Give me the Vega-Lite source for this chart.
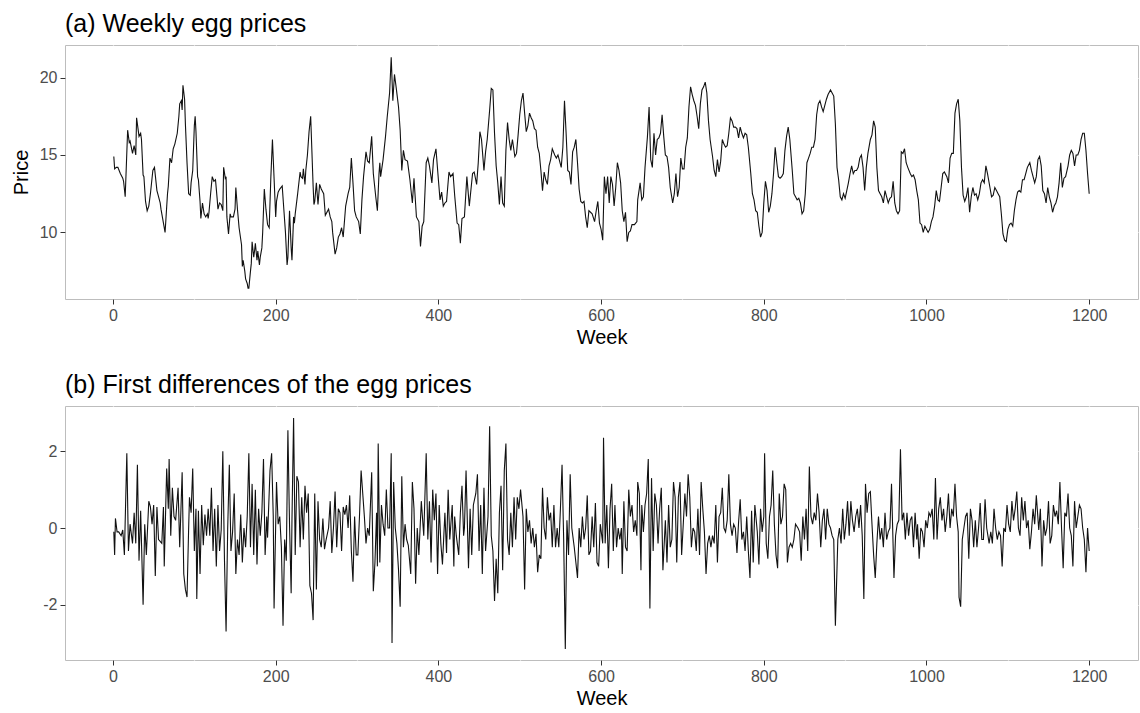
{
"$schema": "https://vega.github.io/schema/vega-lite/v6.json",
"background": "white",
"padding": {"left": 10, "top": 11, "right": 2, "bottom": 3},
"config": {
  "font": "Liberation Sans",
  "view": {"stroke": "#bdbdbd", "strokeWidth": 1},
  "axis": {"labelFontSize": 16, "labelColor": "#4d4d4d", "titleFontSize": 20, "titleFontWeight": "normal", "titleColor": "#000000", "tickColor": "#333333", "tickSize": 5, "domain": false, "gridColor": "#ffffff", "gridWidth": 1.2, "labelPadding": 3, "labelOverlap": false},
  "title": {"fontSize": 25, "fontWeight": "normal", "anchor": "start", "color": "#000000", "offset": 8, "frame": "group"},
  "concat": {"spacing": 24}
},
"datasets": {
"price": [
{"week":1,"price":14.9},{"week":2,"price":14.1},{"week":4,"price":14.2},{"week":6,"price":14.2},{"week":9,"price":13.8},{"week":12,"price":13.5},{"week":13,"price":13.3},{"week":15,"price":12.3},{"week":18,"price":16.6},{"week":20,"price":15.8},{"week":21,"price":15.9},{"week":24,"price":15.1},{"week":26,"price":15.6},{"week":28,"price":15.0},{"week":29,"price":17.4},{"week":32,"price":16.2},{"week":34,"price":16.4},{"week":35,"price":16.0},{"week":37,"price":13.7},{"week":38,"price":13.6},{"week":40,"price":12.0},{"week":42,"price":11.4},{"week":44,"price":11.7},{"week":46,"price":12.5},{"week":47,"price":13.0},{"week":49,"price":14.0},{"week":51,"price":14.2},{"week":54,"price":12.7},{"week":55,"price":12.5},{"week":58,"price":11.9},{"week":59,"price":11.5},{"week":61,"price":10.9},{"week":64,"price":10.0},{"week":65,"price":10.8},{"week":67,"price":12.5},{"week":68,"price":13.0},{"week":70,"price":14.8},{"week":72,"price":14.5},{"week":74,"price":15.4},{"week":76,"price":15.7},{"week":79,"price":16.4},{"week":81,"price":17.5},{"week":82,"price":18.3},{"week":84,"price":18.5},{"week":85,"price":17.9},{"week":86,"price":19.5},{"week":88,"price":18.6},{"week":89,"price":17.0},{"week":91,"price":14.5},{"week":93,"price":12.5},{"week":95,"price":12.4},{"week":96,"price":13.2},{"week":98,"price":14.0},{"week":100,"price":16.9},{"week":101,"price":17.5},{"week":102,"price":16.5},{"week":104,"price":13.6},{"week":105,"price":13.4},{"week":107,"price":12.0},{"week":108,"price":10.9},{"week":110,"price":11.9},{"week":112,"price":11.2},{"week":114,"price":11.0},{"week":116,"price":11.2},{"week":117,"price":10.9},{"week":118,"price":11.3},{"week":120,"price":12.5},{"week":122,"price":13.6},{"week":124,"price":13.3},{"week":126,"price":13.4},{"week":128,"price":12.2},{"week":129,"price":11.5},{"week":131,"price":11.9},{"week":133,"price":11.8},{"week":135,"price":11.4},{"week":136,"price":14.2},{"week":138,"price":13.5},{"week":139,"price":13.6},{"week":140,"price":11.0},{"week":142,"price":9.9},{"week":144,"price":11.2},{"week":145,"price":11.0},{"week":148,"price":11.0},{"week":150,"price":11.5},{"week":151,"price":12.9},{"week":153,"price":11.5},{"week":155,"price":10.3},{"week":158,"price":9.2},{"week":159,"price":7.8},{"week":160,"price":8.2},{"week":162,"price":7.5},{"week":163,"price":7.0},{"week":165,"price":6.7},{"week":166,"price":6.4},{"week":167,"price":6.4},{"week":169,"price":7.5},{"week":170,"price":8.0},{"week":171,"price":9.4},{"week":173,"price":8.4},{"week":174,"price":8.8},{"week":175,"price":9.3},{"week":177,"price":8.2},{"week":178,"price":8.8},{"week":180,"price":7.9},{"week":181,"price":8.4},{"week":183,"price":9.0},{"week":184,"price":10.0},{"week":186,"price":12.8},{"week":188,"price":11.5},{"week":190,"price":10.5},{"week":192,"price":10.3},{"week":194,"price":13.5},{"week":196,"price":16.0},{"week":198,"price":13.5},{"week":200,"price":11.0},{"week":201,"price":12.0},{"week":203,"price":12.6},{"week":205,"price":12.8},{"week":208,"price":13.0},{"week":210,"price":11.5},{"week":212,"price":10.0},{"week":214,"price":7.9},{"week":215,"price":8.4},{"week":217,"price":11.4},{"week":219,"price":9.0},{"week":220,"price":8.2},{"week":222,"price":11.0},{"week":223,"price":10.6},{"week":224,"price":11.2},{"week":227,"price":12.5},{"week":230,"price":13.9},{"week":231,"price":13.6},{"week":233,"price":13.5},{"week":234,"price":14.1},{"week":236,"price":13.1},{"week":237,"price":14.0},{"week":239,"price":15.0},{"week":241,"price":16.5},{"week":243,"price":17.5},{"week":244,"price":16.0},{"week":246,"price":13.0},{"week":247,"price":11.8},{"week":248,"price":12.0},{"week":250,"price":13.2},{"week":252,"price":11.8},{"week":254,"price":13.1},{"week":256,"price":12.8},{"week":259,"price":12.5},{"week":261,"price":11.1},{"week":265,"price":11.5},{"week":267,"price":11.0},{"week":269,"price":10.7},{"week":270,"price":10.0},{"week":273,"price":8.6},{"week":275,"price":9.0},{"week":277,"price":9.7},{"week":279,"price":9.9},{"week":281,"price":10.3},{"week":283,"price":9.7},{"week":286,"price":11.7},{"week":289,"price":12.5},{"week":291,"price":12.9},{"week":293,"price":14.8},{"week":295,"price":13.2},{"week":297,"price":11.4},{"week":299,"price":11.0},{"week":302,"price":10.7},{"week":304,"price":9.9},{"week":306,"price":12.1},{"week":308,"price":13.6},{"week":311,"price":15.2},{"week":313,"price":14.6},{"week":315,"price":14.5},{"week":318,"price":16.2},{"week":320,"price":13.8},{"week":323,"price":12.3},{"week":325,"price":11.4},{"week":327,"price":13.8},{"week":328,"price":14.5},{"week":329,"price":13.6},{"week":332,"price":14.7},{"week":335,"price":16.2},{"week":337,"price":17.4},{"week":340,"price":19.0},{"week":342,"price":21.3},{"week":344,"price":18.5},{"week":346,"price":20.2},{"week":348,"price":19.4},{"week":351,"price":18.1},{"week":353,"price":16.6},{"week":355,"price":14.0},{"week":357,"price":15.3},{"week":359,"price":14.7},{"week":362,"price":14.6},{"week":365,"price":13.4},{"week":368,"price":11.9},{"week":370,"price":13.5},{"week":373,"price":11.0},{"week":376,"price":10.7},{"week":378,"price":9.1},{"week":380,"price":10.4},{"week":382,"price":10.7},{"week":385,"price":14.5},{"week":387,"price":14.8},{"week":389,"price":14.3},{"week":392,"price":13.2},{"week":394,"price":14.7},{"week":397,"price":15.4},{"week":400,"price":13.4},{"week":402,"price":12.1},{"week":404,"price":12.6},{"week":406,"price":11.7},{"week":408,"price":11.9},{"week":410,"price":12.0},{"week":413,"price":13.9},{"week":415,"price":13.6},{"week":418,"price":13.8},{"week":420,"price":12.4},{"week":423,"price":10.6},{"week":425,"price":10.5},{"week":427,"price":9.3},{"week":429,"price":10.9},{"week":432,"price":11.0},{"week":435,"price":13.6},{"week":438,"price":11.7},{"week":442,"price":13.8},{"week":444,"price":13.9},{"week":447,"price":13.1},{"week":449,"price":14.5},{"week":451,"price":16.5},{"week":453,"price":16.0},{"week":456,"price":14.0},{"week":458,"price":15.2},{"week":460,"price":16.0},{"week":463,"price":17.9},{"week":465,"price":19.3},{"week":467,"price":19.2},{"week":469,"price":16.4},{"week":471,"price":14.3},{"week":473,"price":13.2},{"week":475,"price":11.8},{"week":477,"price":13.6},{"week":479,"price":11.9},{"week":481,"price":11.7},{"week":483,"price":15.3},{"week":485,"price":17.1},{"week":487,"price":16.0},{"week":489,"price":15.3},{"week":491,"price":16.0},{"week":494,"price":14.9},{"week":496,"price":15.1},{"week":498,"price":16.3},{"week":500,"price":17.6},{"week":502,"price":18.5},{"week":504,"price":19.0},{"week":506,"price":17.7},{"week":508,"price":16.5},{"week":510,"price":16.9},{"week":512,"price":17.7},{"week":514,"price":17.4},{"week":516,"price":17.2},{"week":518,"price":16.7},{"week":520,"price":16.6},{"week":522,"price":15.5},{"week":524,"price":15.1},{"week":526,"price":14.0},{"week":528,"price":12.7},{"week":530,"price":13.9},{"week":532,"price":13.4},{"week":534,"price":13.1},{"week":536,"price":14.3},{"week":538,"price":14.7},{"week":540,"price":15.4},{"week":543,"price":15.0},{"week":545,"price":14.8},{"week":547,"price":15.0},{"week":549,"price":14.6},{"week":551,"price":14.2},{"week":553,"price":15.5},{"week":555,"price":18.5},{"week":557,"price":16.4},{"week":559,"price":14.0},{"week":561,"price":13.9},{"week":563,"price":13.1},{"week":565,"price":15.2},{"week":567,"price":15.5},{"week":569,"price":16.0},{"week":571,"price":14.5},{"week":573,"price":12.8},{"week":575,"price":12.0},{"week":577,"price":11.9},{"week":579,"price":12.0},{"week":581,"price":11.0},{"week":583,"price":10.3},{"week":585,"price":11.4},{"week":587,"price":11.3},{"week":589,"price":11.2},{"week":592,"price":10.7},{"week":594,"price":11.4},{"week":596,"price":12.0},{"week":598,"price":10.6},{"week":600,"price":10.2},{"week":602,"price":9.5},{"week":604,"price":13.6},{"week":606,"price":12.5},{"week":608,"price":13.6},{"week":610,"price":11.9},{"week":612,"price":13.6},{"week":614,"price":13.1},{"week":616,"price":11.7},{"week":618,"price":12.9},{"week":620,"price":14.5},{"week":622,"price":14.0},{"week":624,"price":13.2},{"week":626,"price":11.4},{"week":628,"price":10.7},{"week":630,"price":11.3},{"week":632,"price":9.4},{"week":634,"price":10.0},{"week":636,"price":10.1},{"week":638,"price":10.5},{"week":641,"price":10.5},{"week":644,"price":10.7},{"week":645,"price":12.1},{"week":648,"price":13.2},{"week":650,"price":12.1},{"week":652,"price":12.3},{"week":654,"price":14.2},{"week":657,"price":16.2},{"week":659,"price":18.1},{"week":661,"price":14.7},{"week":663,"price":14.2},{"week":665,"price":16.4},{"week":667,"price":15.0},{"week":669,"price":16.0},{"week":671,"price":16.1},{"week":673,"price":16.4},{"week":675,"price":17.6},{"week":677,"price":16.2},{"week":679,"price":15.0},{"week":681,"price":14.9},{"week":683,"price":14.2},{"week":685,"price":12.9},{"week":688,"price":11.9},{"week":690,"price":12.5},{"week":692,"price":13.8},{"week":694,"price":12.3},{"week":696,"price":12.9},{"week":698,"price":14.8},{"week":700,"price":14.1},{"week":702,"price":14.1},{"week":704,"price":15.5},{"week":706,"price":16.1},{"week":708,"price":18.1},{"week":710,"price":19.4},{"week":712,"price":18.9},{"week":714,"price":18.5},{"week":716,"price":18.2},{"week":718,"price":17.5},{"week":720,"price":16.7},{"week":722,"price":18.3},{"week":724,"price":19.2},{"week":726,"price":19.4},{"week":728,"price":19.7},{"week":730,"price":19.0},{"week":732,"price":17.2},{"week":734,"price":16.0},{"week":737,"price":14.9},{"week":739,"price":14.0},{"week":741,"price":13.6},{"week":743,"price":14.7},{"week":745,"price":13.9},{"week":747,"price":14.6},{"week":749,"price":16.0},{"week":751,"price":15.7},{"week":753,"price":15.5},{"week":755,"price":15.6},{"week":757,"price":16.4},{"week":759,"price":17.4},{"week":761,"price":17.2},{"week":763,"price":16.8},{"week":765,"price":16.8},{"week":767,"price":16.7},{"week":769,"price":16.1},{"week":771,"price":16.8},{"week":773,"price":16.4},{"week":775,"price":16.1},{"week":777,"price":16.4},{"week":779,"price":16.3},{"week":781,"price":15.5},{"week":784,"price":13.8},{"week":786,"price":12.5},{"week":788,"price":12.1},{"week":790,"price":11.4},{"week":792,"price":11.3},{"week":794,"price":10.4},{"week":796,"price":9.7},{"week":798,"price":10.0},{"week":800,"price":11.9},{"week":802,"price":13.3},{"week":804,"price":12.7},{"week":806,"price":11.3},{"week":808,"price":11.7},{"week":810,"price":12.5},{"week":812,"price":13.8},{"week":814,"price":15.5},{"week":816,"price":14.5},{"week":818,"price":13.6},{"week":820,"price":13.5},{"week":822,"price":13.6},{"week":824,"price":13.8},{"week":826,"price":15.3},{"week":828,"price":16.2},{"week":830,"price":16.8},{"week":832,"price":16.0},{"week":835,"price":14.0},{"week":837,"price":12.5},{"week":839,"price":12.3},{"week":841,"price":12.1},{"week":843,"price":12.2},{"week":845,"price":11.9},{"week":847,"price":11.2},{"week":849,"price":11.4},{"week":851,"price":12.5},{"week":853,"price":14.5},{"week":855,"price":14.8},{"week":857,"price":15.1},{"week":859,"price":15.5},{"week":861,"price":15.5},{"week":863,"price":16.0},{"week":865,"price":17.6},{"week":867,"price":18.3},{"week":869,"price":18.5},{"week":871,"price":18.1},{"week":873,"price":17.8},{"week":875,"price":18.2},{"week":877,"price":18.6},{"week":879,"price":18.9},{"week":882,"price":19.2},{"week":884,"price":19.0},{"week":886,"price":18.8},{"week":888,"price":17.0},{"week":890,"price":14.2},{"week":892,"price":13.4},{"week":894,"price":12.3},{"week":896,"price":12.1},{"week":898,"price":12.5},{"week":900,"price":12.2},{"week":902,"price":12.7},{"week":904,"price":13.2},{"week":906,"price":13.8},{"week":908,"price":14.3},{"week":910,"price":13.8},{"week":912,"price":14.0},{"week":914,"price":14.0},{"week":916,"price":14.2},{"week":918,"price":14.8},{"week":920,"price":15.0},{"week":922,"price":14.2},{"week":924,"price":12.7},{"week":926,"price":14.2},{"week":928,"price":15.1},{"week":931,"price":16.0},{"week":933,"price":16.3},{"week":935,"price":17.2},{"week":937,"price":16.8},{"week":939,"price":14.2},{"week":941,"price":12.7},{"week":943,"price":12.5},{"week":945,"price":12.3},{"week":947,"price":11.9},{"week":949,"price":12.7},{"week":951,"price":12.3},{"week":953,"price":11.9},{"week":955,"price":12.2},{"week":957,"price":12.3},{"week":959,"price":13.3},{"week":961,"price":11.9},{"week":963,"price":11.4},{"week":965,"price":11.2},{"week":967,"price":11.4},{"week":969,"price":15.2},{"week":971,"price":15.1},{"week":973,"price":15.4},{"week":975,"price":14.5},{"week":977,"price":14.2},{"week":980,"price":13.8},{"week":982,"price":13.6},{"week":984,"price":13.7},{"week":986,"price":13.4},{"week":988,"price":12.7},{"week":990,"price":12.1},{"week":992,"price":10.6},{"week":994,"price":10.5},{"week":996,"price":10.0},{"week":998,"price":10.4},{"week":1000,"price":10.2},{"week":1002,"price":10.0},{"week":1004,"price":10.2},{"week":1006,"price":10.7},{"week":1008,"price":11.0},{"week":1010,"price":11.7},{"week":1012,"price":12.7},{"week":1014,"price":12.1},{"week":1016,"price":12.0},{"week":1018,"price":12.9},{"week":1020,"price":13.8},{"week":1022,"price":13.9},{"week":1025,"price":13.6},{"week":1027,"price":13.2},{"week":1029,"price":14.8},{"week":1031,"price":15.1},{"week":1033,"price":15.1},{"week":1035,"price":17.7},{"week":1037,"price":18.3},{"week":1039,"price":18.6},{"week":1041,"price":17.2},{"week":1043,"price":14.2},{"week":1045,"price":12.4},{"week":1047,"price":12.0},{"week":1049,"price":12.3},{"week":1051,"price":12.9},{"week":1053,"price":11.3},{"week":1055,"price":12.3},{"week":1057,"price":12.9},{"week":1059,"price":12.4},{"week":1061,"price":12.5},{"week":1063,"price":12.1},{"week":1065,"price":12.5},{"week":1067,"price":13.2},{"week":1069,"price":13.4},{"week":1071,"price":13.2},{"week":1073,"price":14.3},{"week":1075,"price":13.8},{"week":1078,"price":12.9},{"week":1080,"price":12.3},{"week":1082,"price":12.4},{"week":1084,"price":12.9},{"week":1086,"price":12.7},{"week":1088,"price":12.5},{"week":1090,"price":12.3},{"week":1092,"price":11.2},{"week":1094,"price":9.9},{"week":1096,"price":9.5},{"week":1098,"price":9.4},{"week":1100,"price":10.2},{"week":1102,"price":10.5},{"week":1104,"price":10.6},{"week":1106,"price":10.4},{"week":1108,"price":11.4},{"week":1110,"price":12.1},{"week":1112,"price":12.6},{"week":1114,"price":12.7},{"week":1116,"price":12.6},{"week":1118,"price":13.4},{"week":1120,"price":13.4},{"week":1122,"price":13.8},{"week":1124,"price":14.2},{"week":1127,"price":14.5},{"week":1129,"price":14.0},{"week":1131,"price":13.6},{"week":1133,"price":13.2},{"week":1135,"price":13.6},{"week":1137,"price":14.7},{"week":1139,"price":14.9},{"week":1141,"price":14.3},{"week":1143,"price":12.7},{"week":1145,"price":12.5},{"week":1147,"price":11.9},{"week":1149,"price":12.9},{"week":1151,"price":12.3},{"week":1153,"price":11.9},{"week":1155,"price":11.3},{"week":1157,"price":11.7},{"week":1159,"price":11.9},{"week":1161,"price":12.3},{"week":1163,"price":13.2},{"week":1165,"price":14.5},{"week":1167,"price":12.9},{"week":1169,"price":13.5},{"week":1171,"price":13.6},{"week":1174,"price":14.3},{"week":1176,"price":15.0},{"week":1178,"price":15.3},{"week":1180,"price":15.1},{"week":1182,"price":14.3},{"week":1184,"price":15.0},{"week":1186,"price":15.0},{"week":1188,"price":15.3},{"week":1190,"price":16.0},{"week":1192,"price":16.4},{"week":1194,"price":16.4},{"week":1196,"price":15.3},{"week":1198,"price":13.8},{"week":1200,"price":12.5}
],
"diff": [
{"week":1,"diff":-0.1},{"week":2,"diff":-0.7},{"week":3,"diff":0.25},{"week":5,"diff":-0.1},{"week":7,"diff":-0.1},{"week":10,"diff":-0.2},{"week":12,"diff":-0.05},{"week":14,"diff":-0.7},{"week":17,"diff":1.95},{"week":19,"diff":-0.6},{"week":21,"diff":0.1},{"week":24,"diff":-0.4},{"week":26,"diff":0.4},{"week":28,"diff":-0.4},{"week":30,"diff":1.65},{"week":32,"diff":-0.85},{"week":34,"diff":0.45},{"week":37,"diff":-2.0},{"week":39,"diff":0.1},{"week":41,"diff":-0.7},{"week":44,"diff":0.7},{"week":46,"diff":0.55},{"week":48,"diff":0.1},{"week":50,"diff":0.6},{"week":52,"diff":-1.25},{"week":54,"diff":0.55},{"week":56,"diff":-0.3},{"week":58,"diff":-0.35},{"week":60,"diff":-0.4},{"week":62,"diff":0.55},{"week":63,"diff":-1.0},{"week":66,"diff":1.55},{"week":68,"diff":0.5},{"week":69,"diff":1.8},{"week":71,"diff":-0.2},{"week":73,"diff":1.05},{"week":75,"diff":0.3},{"week":77,"diff":0.2},{"week":80,"diff":1.05},{"week":82,"diff":-0.5},{"week":85,"diff":1.45},{"week":87,"diff":-1.2},{"week":89,"diff":-1.6},{"week":91,"diff":-1.8},{"week":93,"diff":0.0},{"week":94,"diff":0.8},{"week":96,"diff":0.4},{"week":98,"diff":1.55},{"week":100,"diff":-0.6},{"week":102,"diff":0.5},{"week":103,"diff":-1.85},{"week":105,"diff":0.45},{"week":107,"diff":-1.2},{"week":109,"diff":0.6},{"week":111,"diff":-0.45},{"week":113,"diff":0.35},{"week":115,"diff":-0.2},{"week":117,"diff":0.5},{"week":119,"diff":-0.2},{"week":121,"diff":1.05},{"week":123,"diff":-0.6},{"week":125,"diff":0.5},{"week":127,"diff":-1.0},{"week":129,"diff":0.6},{"week":131,"diff":-0.6},{"week":133,"diff":-0.05},{"week":135,"diff":2.0},{"week":137,"diff":-0.8},{"week":139,"diff":-2.7},{"week":141,"diff":0.0},{"week":143,"diff":1.65},{"week":145,"diff":-0.6},{"week":147,"diff":-0.1},{"week":149,"diff":0.9},{"week":151,"diff":-1.2},{"week":153,"diff":-0.3},{"week":155,"diff":-0.7},{"week":157,"diff":0.35},{"week":159,"diff":-0.9},{"week":161,"diff":0.0},{"week":163,"diff":-0.5},{"week":165,"diff":0.3},{"week":167,"diff":1.95},{"week":169,"diff":-0.5},{"week":171,"diff":1.15},{"week":173,"diff":-0.7},{"week":175,"diff":1.0},{"week":177,"diff":-0.95},{"week":179,"diff":0.5},{"week":181,"diff":-0.2},{"week":183,"diff":0.4},{"week":185,"diff":1.8},{"week":187,"diff":-0.7},{"week":189,"diff":0.3},{"week":190,"diff":-0.25},{"week":193,"diff":1.5},{"week":195,"diff":1.95},{"week":197,"diff":0.3},{"week":198,"diff":-2.1},{"week":201,"diff":1.2},{"week":203,"diff":0.1},{"week":205,"diff":0.3},{"week":207,"diff":-0.5},{"week":209,"diff":-2.55},{"week":211,"diff":-0.3},{"week":213,"diff":-0.85},{"week":215,"diff":2.55},{"week":217,"diff":0.1},{"week":219,"diff":-1.7},{"week":220,"diff":0.2},{"week":222,"diff":2.87},{"week":224,"diff":-0.7},{"week":226,"diff":1.35},{"week":228,"diff":1.2},{"week":230,"diff":-0.5},{"week":232,"diff":0.8},{"week":234,"diff":-0.3},{"week":236,"diff":1.1},{"week":238,"diff":0.4},{"week":240,"diff":0.9},{"week":242,"diff":-1.5},{"week":244,"diff":-1.7},{"week":246,"diff":-2.4},{"week":248,"diff":0.9},{"week":250,"diff":-1.6},{"week":252,"diff":0.7},{"week":254,"diff":-0.3},{"week":256,"diff":-0.5},{"week":258,"diff":0.25},{"week":260,"diff":-0.55},{"week":262,"diff":-0.3},{"week":265,"diff":0.0},{"week":267,"diff":0.7},{"week":269,"diff":-0.65},{"week":271,"diff":0.0},{"week":273,"diff":0.95},{"week":275,"diff":-0.5},{"week":277,"diff":0.5},{"week":279,"diff":0.4},{"week":281,"diff":-0.6},{"week":283,"diff":0.55},{"week":285,"diff":0.35},{"week":287,"diff":0.6},{"week":289,"diff":0.0},{"week":291,"diff":0.85},{"week":293,"diff":-0.6},{"week":295,"diff":-1.4},{"week":297,"diff":0.3},{"week":299,"diff":-0.7},{"week":301,"diff":-0.7},{"week":303,"diff":0.3},{"week":305,"diff":1.5},{"week":307,"diff":0.9},{"week":309,"diff":0.3},{"week":311,"diff":-0.4},{"week":313,"diff":0.0},{"week":315,"diff":-0.2},{"week":318,"diff":1.45},{"week":320,"diff":-1.65},{"week":322,"diff":-0.9},{"week":324,"diff":0.4},{"week":325,"diff":-1.0},{"week":326,"diff":2.2},{"week":328,"diff":-0.9},{"week":330,"diff":0.6},{"week":332,"diff":0.1},{"week":334,"diff":-0.2},{"week":336,"diff":1.0},{"week":338,"diff":0.0},{"week":340,"diff":0.0},{"week":342,"diff":1.95},{"week":343,"diff":-3.0},{"week":345,"diff":1.2},{"week":347,"diff":0.0},{"week":349,"diff":-0.4},{"week":351,"diff":-1.1},{"week":353,"diff":-2.05},{"week":355,"diff":1.35},{"week":357,"diff":-0.5},{"week":359,"diff":0.1},{"week":361,"diff":-0.3},{"week":363,"diff":-0.45},{"week":366,"diff":-1.2},{"week":368,"diff":1.2},{"week":370,"diff":0.5},{"week":372,"diff":-1.45},{"week":374,"diff":0.0},{"week":376,"diff":-0.7},{"week":379,"diff":0.7},{"week":382,"diff":-0.2},{"week":385,"diff":1.95},{"week":387,"diff":-0.3},{"week":389,"diff":0.7},{"week":391,"diff":-0.9},{"week":393,"diff":1.0},{"week":395,"diff":0.2},{"week":397,"diff":0.9},{"week":399,"diff":-1.2},{"week":401,"diff":0.6},{"week":403,"diff":-0.4},{"week":405,"diff":-0.95},{"week":408,"diff":0.4},{"week":410,"diff":-0.65},{"week":412,"diff":1.0},{"week":414,"diff":-0.3},{"week":417,"diff":0.6},{"week":419,"diff":-1.0},{"week":420,"diff":0.3},{"week":422,"diff":-0.2},{"week":425,"diff":-0.7},{"week":427,"diff":0.4},{"week":429,"diff":1.1},{"week":431,"diff":-0.2},{"week":432,"diff":0.0},{"week":434,"diff":1.5},{"week":437,"diff":-1.05},{"week":439,"diff":0.5},{"week":441,"diff":-0.7},{"week":443,"diff":0.6},{"week":446,"diff":0.9},{"week":448,"diff":1.4},{"week":450,"diff":-0.6},{"week":452,"diff":0.6},{"week":454,"diff":-1.2},{"week":456,"diff":1.05},{"week":458,"diff":-0.6},{"week":461,"diff":0.3},{"week":463,"diff":2.65},{"week":465,"diff":-0.2},{"week":467,"diff":-0.6},{"week":469,"diff":-1.9},{"week":471,"diff":-0.8},{"week":473,"diff":-1.7},{"week":475,"diff":0.4},{"week":477,"diff":1.1},{"week":479,"diff":-1.1},{"week":481,"diff":1.5},{"week":483,"diff":2.2},{"week":485,"diff":-0.3},{"week":487,"diff":-0.7},{"week":489,"diff":0.4},{"week":491,"diff":-0.5},{"week":493,"diff":0.8},{"week":495,"diff":-0.3},{"week":497,"diff":0.8},{"week":499,"diff":0.5},{"week":501,"diff":1.0},{"week":504,"diff":0.3},{"week":506,"diff":-1.6},{"week":508,"diff":0.5},{"week":510,"diff":-0.1},{"week":512,"diff":0.2},{"week":514,"diff":-0.4},{"week":516,"diff":0.0},{"week":518,"diff":-0.5},{"week":520,"diff":-0.15},{"week":522,"diff":-1.15},{"week":524,"diff":-0.7},{"week":526,"diff":-0.8},{"week":528,"diff":1.05},{"week":530,"diff":0.0},{"week":532,"diff":-0.3},{"week":534,"diff":0.8},{"week":536,"diff":0.2},{"week":538,"diff":0.4},{"week":540,"diff":-0.5},{"week":542,"diff":0.6},{"week":544,"diff":-0.5},{"week":546,"diff":0.0},{"week":548,"diff":-0.5},{"week":550,"diff":0.5},{"week":552,"diff":1.65},{"week":554,"diff":-0.3},{"week":556,"diff":-3.15},{"week":558,"diff":0.2},{"week":560,"diff":-0.7},{"week":562,"diff":1.4},{"week":564,"diff":0.0},{"week":567,"diff":-0.5},{"week":569,"diff":-0.9},{"week":571,"diff":-1.3},{"week":573,"diff":0.0},{"week":575,"diff":-0.5},{"week":577,"diff":0.3},{"week":579,"diff":-0.3},{"week":581,"diff":0.0},{"week":583,"diff":0.85},{"week":585,"diff":-0.7},{"week":587,"diff":-0.6},{"week":589,"diff":0.3},{"week":591,"diff":-0.5},{"week":593,"diff":0.65},{"week":595,"diff":-0.9},{"week":597,"diff":-1.0},{"week":599,"diff":0.1},{"week":602,"diff":-0.4},{"week":603,"diff":2.35},{"week":605,"diff":-0.4},{"week":607,"diff":0.6},{"week":609,"diff":-1.05},{"week":611,"diff":0.5},{"week":613,"diff":1.15},{"week":615,"diff":-0.6},{"week":617,"diff":0.6},{"week":619,"diff":-0.5},{"week":621,"diff":0.0},{"week":623,"diff":-0.3},{"week":625,"diff":0.0},{"week":626,"diff":-1.2},{"week":628,"diff":0.7},{"week":630,"diff":-0.5},{"week":632,"diff":-0.6},{"week":634,"diff":1.0},{"week":636,"diff":0.3},{"week":638,"diff":0.6},{"week":640,"diff":-0.1},{"week":642,"diff":0.2},{"week":644,"diff":-0.2},{"week":645,"diff":1.2},{"week":647,"diff":0.9},{"week":649,"diff":-1.1},{"week":650,"diff":0.6},{"week":652,"diff":-0.1},{"week":654,"diff":0.6},{"week":656,"diff":0.9},{"week":658,"diff":1.8},{"week":660,"diff":-2.1},{"week":662,"diff":1.3},{"week":664,"diff":-0.6},{"week":666,"diff":0.9},{"week":668,"diff":0.6},{"week":670,"diff":-0.4},{"week":672,"diff":0.5},{"week":674,"diff":1.05},{"week":676,"diff":-1.1},{"week":679,"diff":0.2},{"week":681,"diff":-0.9},{"week":683,"diff":0.6},{"week":685,"diff":-0.5},{"week":687,"diff":-0.3},{"week":689,"diff":1.2},{"week":691,"diff":0.8},{"week":693,"diff":-0.9},{"week":695,"diff":0.8},{"week":697,"diff":1.2},{"week":699,"diff":-0.7},{"week":701,"diff":0.1},{"week":703,"diff":0.9},{"week":705,"diff":0.3},{"week":707,"diff":1.4},{"week":709,"diff":0.8},{"week":711,"diff":-0.5},{"week":713,"diff":0.0},{"week":715,"diff":-0.1},{"week":717,"diff":-0.6},{"week":719,"diff":0.5},{"week":721,"diff":-0.7},{"week":723,"diff":1.2},{"week":725,"diff":0.5},{"week":727,"diff":-0.1},{"week":729,"diff":-1.2},{"week":731,"diff":-0.4},{"week":733,"diff":-0.2},{"week":735,"diff":-0.5},{"week":737,"diff":-0.2},{"week":739,"diff":-0.4},{"week":741,"diff":0.6},{"week":743,"diff":-0.9},{"week":745,"diff":0.3},{"week":747,"diff":0.4},{"week":749,"diff":1.05},{"week":751,"diff":0.0},{"week":753,"diff":-0.1},{"week":755,"diff":0.2},{"week":757,"diff":1.4},{"week":759,"diff":0.1},{"week":761,"diff":-0.2},{"week":763,"diff":0.1},{"week":765,"diff":0.0},{"week":767,"diff":-0.65},{"week":769,"diff":0.15},{"week":771,"diff":0.75},{"week":773,"diff":-0.3},{"week":775,"diff":-0.1},{"week":777,"diff":-0.6},{"week":779,"diff":0.3},{"week":781,"diff":-0.6},{"week":783,"diff":-1.3},{"week":785,"diff":0.45},{"week":787,"diff":-0.9},{"week":789,"diff":0.6},{"week":792,"diff":-0.1},{"week":794,"diff":-0.95},{"week":796,"diff":0.5},{"week":798,"diff":-0.1},{"week":800,"diff":0.3},{"week":801,"diff":1.95},{"week":803,"diff":-0.4},{"week":805,"diff":-0.8},{"week":807,"diff":0.3},{"week":809,"diff":0.6},{"week":811,"diff":1.5},{"week":813,"diff":0.1},{"week":815,"diff":-0.7},{"week":817,"diff":-1.05},{"week":819,"diff":0.9},{"week":821,"diff":0.1},{"week":823,"diff":0.3},{"week":825,"diff":1.15},{"week":827,"diff":1.0},{"week":829,"diff":-0.9},{"week":831,"diff":-0.5},{"week":833,"diff":-0.4},{"week":835,"diff":-0.5},{"week":837,"diff":-0.3},{"week":839,"diff":0.1},{"week":842,"diff":0.0},{"week":844,"diff":-0.1},{"week":846,"diff":-0.85},{"week":848,"diff":0.3},{"week":850,"diff":-0.3},{"week":852,"diff":0.5},{"week":854,"diff":-0.6},{"week":856,"diff":1.6},{"week":858,"diff":0.3},{"week":860,"diff":0.1},{"week":862,"diff":0.4},{"week":864,"diff":0.2},{"week":866,"diff":0.9},{"week":868,"diff":0.4},{"week":870,"diff":-0.5},{"week":872,"diff":0.2},{"week":874,"diff":0.5},{"week":876,"diff":-0.3},{"week":878,"diff":0.5},{"week":880,"diff":0.1},{"week":882,"diff":0.0},{"week":884,"diff":-0.2},{"week":886,"diff":-0.3},{"week":888,"diff":-2.55},{"week":891,"diff":-0.3},{"week":893,"diff":0.0},{"week":895,"diff":-0.4},{"week":897,"diff":0.5},{"week":899,"diff":-0.3},{"week":901,"diff":0.1},{"week":903,"diff":0.7},{"week":905,"diff":-0.2},{"week":907,"diff":0.7},{"week":909,"diff":0.2},{"week":911,"diff":-0.1},{"week":913,"diff":0.3},{"week":915,"diff":0.5},{"week":917,"diff":0.0},{"week":919,"diff":0.6},{"week":921,"diff":-0.2},{"week":923,"diff":-1.85},{"week":925,"diff":1.15},{"week":927,"diff":0.4},{"week":929,"diff":0.9},{"week":931,"diff":0.95},{"week":933,"diff":0.1},{"week":935,"diff":-0.7},{"week":937,"diff":-1.3},{"week":939,"diff":-0.4},{"week":941,"diff":0.3},{"week":943,"diff":-0.3},{"week":945,"diff":0.0},{"week":947,"diff":-0.5},{"week":949,"diff":0.4},{"week":951,"diff":-0.3},{"week":953,"diff":-0.1},{"week":955,"diff":0.0},{"week":957,"diff":1.15},{"week":960,"diff":-1.3},{"week":962,"diff":-0.2},{"week":964,"diff":0.1},{"week":966,"diff":0.2},{"week":968,"diff":2.05},{"week":970,"diff":0.2},{"week":972,"diff":0.4},{"week":974,"diff":-0.3},{"week":976,"diff":0.4},{"week":978,"diff":-0.2},{"week":980,"diff":0.2},{"week":982,"diff":0.3},{"week":984,"diff":-0.5},{"week":986,"diff":0.4},{"week":988,"diff":-0.3},{"week":989,"diff":0.1},{"week":991,"diff":-0.8},{"week":993,"diff":0.0},{"week":995,"diff":-0.1},{"week":997,"diff":-0.5},{"week":999,"diff":0.2},{"week":1001,"diff":0.0},{"week":1003,"diff":0.4},{"week":1005,"diff":0.3},{"week":1007,"diff":0.5},{"week":1009,"diff":-0.3},{"week":1011,"diff":1.3},{"week":1013,"diff":-0.3},{"week":1015,"diff":0.5},{"week":1017,"diff":0.8},{"week":1019,"diff":0.2},{"week":1021,"diff":0.5},{"week":1023,"diff":-0.1},{"week":1025,"diff":0.3},{"week":1027,"diff":0.9},{"week":1029,"diff":0.0},{"week":1031,"diff":0.5},{"week":1033,"diff":0.3},{"week":1035,"diff":1.15},{"week":1037,"diff":0.3},{"week":1039,"diff":-0.1},{"week":1040,"diff":-1.8},{"week":1042,"diff":-2.05},{"week":1044,"diff":-0.3},{"week":1046,"diff":0.0},{"week":1048,"diff":0.3},{"week":1050,"diff":0.4},{"week":1052,"diff":-0.8},{"week":1054,"diff":0.5},{"week":1056,"diff":0.2},{"week":1058,"diff":-0.5},{"week":1060,"diff":0.2},{"week":1062,"diff":-0.5},{"week":1064,"diff":0.0},{"week":1066,"diff":0.65},{"week":1068,"diff":-0.3},{"week":1070,"diff":-0.3},{"week":1072,"diff":0.75},{"week":1074,"diff":0.0},{"week":1077,"diff":-0.4},{"week":1079,"diff":-0.1},{"week":1081,"diff":-0.4},{"week":1083,"diff":0.5},{"week":1085,"diff":0.0},{"week":1087,"diff":-0.3},{"week":1089,"diff":-0.1},{"week":1091,"diff":-0.2},{"week":1093,"diff":-1.0},{"week":1095,"diff":0.0},{"week":1097,"diff":-0.1},{"week":1099,"diff":0.6},{"week":1101,"diff":0.1},{"week":1103,"diff":-0.1},{"week":1105,"diff":0.7},{"week":1107,"diff":0.2},{"week":1109,"diff":0.5},{"week":1111,"diff":0.95},{"week":1113,"diff":0.0},{"week":1115,"diff":-0.2},{"week":1117,"diff":0.8},{"week":1119,"diff":0.2},{"week":1121,"diff":0.7},{"week":1123,"diff":0.0},{"week":1125,"diff":0.2},{"week":1127,"diff":-0.55},{"week":1129,"diff":-0.1},{"week":1131,"diff":0.5},{"week":1133,"diff":0.1},{"week":1135,"diff":0.85},{"week":1138,"diff":-0.05},{"week":1140,"diff":0.5},{"week":1142,"diff":-1.0},{"week":1144,"diff":0.2},{"week":1146,"diff":-0.2},{"week":1148,"diff":0.0},{"week":1150,"diff":0.7},{"week":1152,"diff":-0.4},{"week":1154,"diff":-0.2},{"week":1156,"diff":0.6},{"week":1158,"diff":0.3},{"week":1160,"diff":0.45},{"week":1162,"diff":0.1},{"week":1164,"diff":1.2},{"week":1166,"diff":0.0},{"week":1168,"diff":-1.05},{"week":1170,"diff":0.4},{"week":1172,"diff":0.3},{"week":1174,"diff":0.9},{"week":1176,"diff":0.0},{"week":1178,"diff":-0.2},{"week":1180,"diff":-1.0},{"week":1182,"diff":0.7},{"week":1184,"diff":0.0},{"week":1186,"diff":0.3},{"week":1188,"diff":0.6},{"week":1190,"diff":0.5},{"week":1192,"diff":0.0},{"week":1194,"diff":-0.3},{"week":1196,"diff":-1.15},{"week":1198,"diff":0.0},{"week":1200,"diff":-0.6}
]
},
"vconcat": [
{
  "width": 1073, "height": 254,
  "title": {"text": "(a) Weekly egg prices"},
  "data": {"name": "price"},
  "mark": {"type": "line", "color": "#111111", "strokeWidth": 1.1},
  "encoding": {
    "x": {"field": "week", "type": "quantitative", "scale": {"domain": [-59, 1260], "nice": false, "zero": false},
          "axis": {"title": "Week", "values": [0,100,200,300,400,500,600,700,800,900,1000,1100,1200], "labelExpr": "datum.value % 200 === 0 ? toString(datum.value) : ''", "tickOpacity": {"condition": {"test": "datum.value % 200 !== 0", "value": 0}, "value": 1}}},
    "y": {"field": "price", "type": "quantitative", "scale": {"domain": [5.7, 22.1], "nice": false, "zero": false},
          "axis": {"title": "Price", "values": [10, 15, 20], "labelExpr": "toString(datum.value)", "titlePadding": 8}}
  }
},
{
  "width": 1073, "height": 254,
  "title": {"text": "(b) First differences of the egg prices"},
  "data": {"name": "diff"},
  "mark": {"type": "line", "color": "#111111", "strokeWidth": 1.1},
  "encoding": {
    "x": {"field": "week", "type": "quantitative", "scale": {"domain": [-59, 1260], "nice": false, "zero": false},
          "axis": {"title": "Week", "values": [0,100,200,300,400,500,600,700,800,900,1000,1100,1200], "labelExpr": "datum.value % 200 === 0 ? toString(datum.value) : ''", "tickOpacity": {"condition": {"test": "datum.value % 200 !== 0", "value": 0}, "value": 1}}},
    "y": {"field": "diff", "type": "quantitative", "scale": {"domain": [-3.44, 3.18], "nice": false, "zero": false},
          "axis": {"title": null, "values": [-2, 0, 2], "labelExpr": "toString(datum.value)"}}
  }
}
]
}
